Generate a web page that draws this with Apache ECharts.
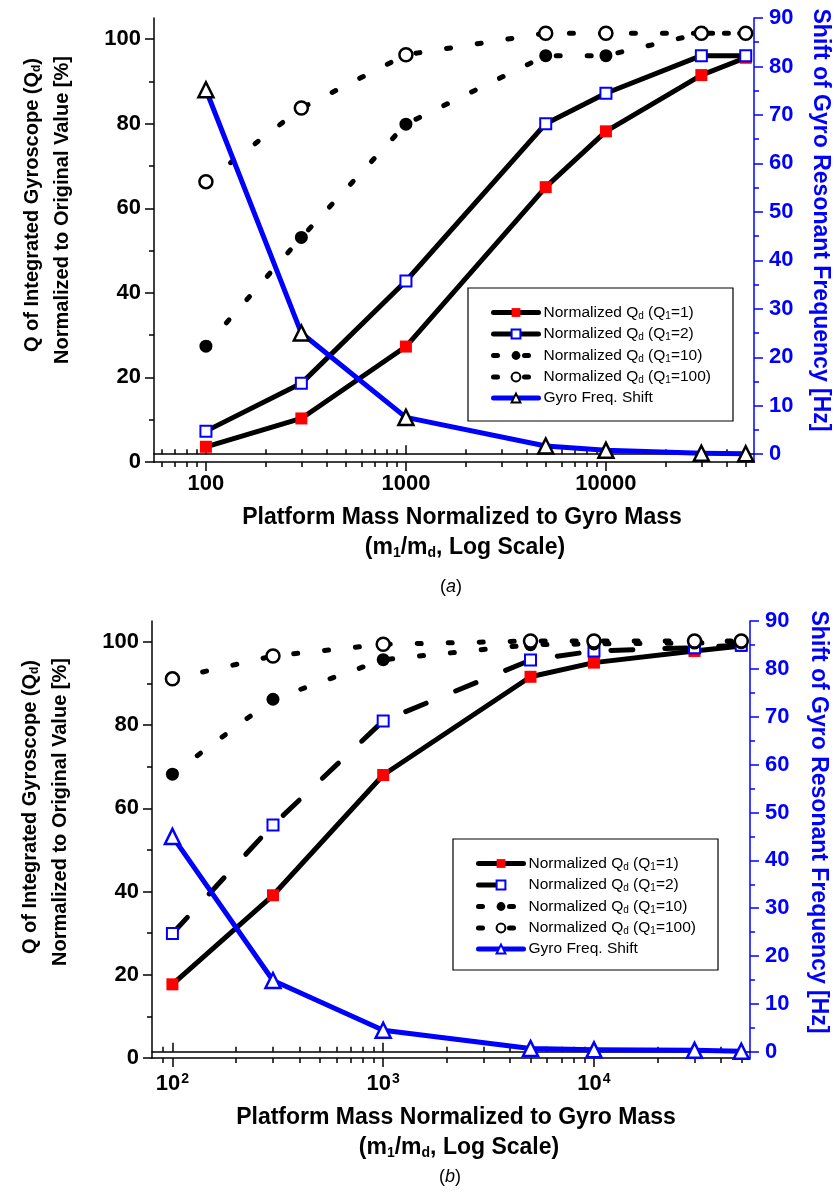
<!DOCTYPE html>
<html><head><meta charset="utf-8">
<script src="https://cdn.jsdelivr.net/npm/echarts@6/dist/echarts.min.js"></script>
<style>html,body{margin:0;padding:0;background:#fff}#c{width:836px;height:1196px}</style>
</head><body><div id="c"></div>
<script>
// ---- data ----
const massRatio = [100, 300, 1000, 5000, 10000, 30000, 50000];
// panel (a)
const qA_Q1_1   = [3.6, 10.3, 27.3, 65.0, 78.2, 91.5, 95.6];
const qA_Q1_2   = [7.3, 18.6, 42.8, 80.0, 87.2, 96.1, 96.1];
const qA_Q1_10  = [27.4, 53.1, 79.9, 96.1, 96.1, 101.4, 101.4];
const qA_Q1_100 = [66.3, 83.7, 96.3, 101.4, 101.4, 101.4, 101.4];
const shiftA    = [75.2, 25.0, 7.6, 1.7, 0.8, 0.2, 0.1];
// panel (b)
const qB_Q1_1   = [17.7, 39.1, 68.0, 91.6, 95.0, 97.8, 99.0];
const qB_Q1_2   = [29.9, 56.0, 81.0, 95.6, 97.8, 98.6, 99.2];
const qB_Q1_10  = [68.2, 86.2, 95.7, 99.3, 99.5, 99.7, 99.8];
const qB_Q1_100 = [91.1, 96.6, 99.4, 100.2, 100.2, 100.2, 100.2];
const shiftB    = [45.0, 14.9, 4.5, 0.7, 0.4, 0.3, 0.1];
// ticks
const xMajorTicks = [100, 1000, 10000];
const xMinorTicksA = [60, 70, 80, 90, 200, 300, 400, 500, 600, 700, 800, 900, 2000, 3000, 4000, 5000, 6000, 7000, 8000, 9000, 20000, 30000, 40000, 50000];
const xMinorTicksB = [90, 200, 300, 400, 500, 600, 700, 800, 900, 2000, 3000, 4000, 5000, 6000, 7000, 8000, 9000, 20000, 30000, 40000, 50000];
const yLeftTicks = [0, 20, 40, 60, 80, 100];
const yLeftMinor = [10, 30, 50, 70, 90];
const yRightTicks = [0, 10, 20, 30, 40, 50, 60, 70, 80, 90];
const yRightMinor = [5, 15, 25, 35, 45, 55, 65, 75, 85];

const BLUE = '#0000ff', RED = '#ff0000', BLACK = '#000';
const FF = "'Liberation Sans', Arial, Helvetica, sans-serif";

const grids = [
  {left: 154, top: 18, width: 600, height: 444},
  {left: 152, top: 621, width: 598, height: 437}
];
const xRange = [[55, 55000], [80, 55000]];
const yRightRange = [[-1.6, 90], [-1.3, 90]];

function xAxes(gi, minorVals, fmt, rich) {
  const base = {type: 'log', logBase: 10, min: xRange[gi][0], max: xRange[gi][1], gridIndex: gi,
    splitLine: {show: false}, minorTick: {show: false}, minorSplitLine: {show: false}};
  const line = {show: true, lineStyle: {color: BLACK, width: 1.5}};
  const tk = (vals, len, inside) => ({show: true, customValues: vals, length: len, inside: inside, lineStyle: {color: BLACK, width: 1.5}});
  return [
    Object.assign({}, base, {position: 'bottom', axisLine: line, axisTick: tk(xMajorTicks, 9, false),
      axisLabel: {show: true, customValues: xMajorTicks, formatter: fmt, margin: gi === 0 ? 11 : 14, color: BLACK,
        fontFamily: FF, fontWeight: 'bold', fontSize: 22, rich: rich}}),
    Object.assign({}, base, {position: 'bottom', axisLine: {show: false}, axisTick: tk(minorVals, 5, false), axisLabel: {show: false}}),
    Object.assign({}, base, {position: 'top', axisLine: line, axisTick: tk(xMajorTicks, 9, false), axisLabel: {show: false}}),
    Object.assign({}, base, {position: 'top', axisLine: {show: false}, axisTick: tk(minorVals, 5, false), axisLabel: {show: false}})
  ];
}
function yAxes(gi) {
  const lbl = (c, m, vals) => ({show: true, customValues: vals, color: c, fontFamily: FF, fontWeight: 'bold', fontSize: 22, margin: m});
  const tk = (c, vals, len) => ({show: true, customValues: vals, length: len, inside: false, lineStyle: {color: c, width: 1.5}});
  const common = {type: 'value', gridIndex: gi, splitLine: {show: false}, minorTick: {show: false}};
  return [
    Object.assign({}, common, {position: 'left', min: 0, max: 105, axisLine: {show: true, lineStyle: {color: BLACK, width: 1.5}},
      axisTick: tk(BLACK, yLeftTicks, 9), axisLabel: lbl(BLACK, 13, yLeftTicks)}),
    Object.assign({}, common, {position: 'left', min: 0, max: 105, axisLine: {show: false},
      axisTick: tk(BLACK, yLeftMinor, 5), axisLabel: {show: false}}),
    Object.assign({}, common, {position: 'right', min: yRightRange[gi][0], max: yRightRange[gi][1], axisLine: {show: true, lineStyle: {color: BLUE, width: 1.5}},
      axisTick: tk(BLUE, yRightTicks, 9), axisLabel: lbl(BLUE, 15, yRightTicks)}),
    Object.assign({}, common, {position: 'right', min: yRightRange[gi][0], max: yRightRange[gi][1], axisLine: {show: false},
      axisTick: tk(BLUE, yRightMinor, 5), axisLabel: {show: false}})
  ];
}

const pts = vals => massRatio.map((m, i) => [m, vals[i]]);
const DOT = [4, 27];
const LONGDASH = [22, 32];
function ser(name, gi, right, vals, lineColor, lineType, symbol, size, itemStyle) {
  return {
    name: name, type: 'line', xAxisIndex: gi * 4, yAxisIndex: gi * 4 + (right ? 2 : 0),
    data: pts(vals), symbol: symbol, symbolSize: size, showSymbol: true,
    lineStyle: {color: lineColor, width: 5, type: lineType, cap: 'round', join: 'round'},
    itemStyle: itemStyle, emphasis: {disabled: true}, animation: false, silent: true
  };
}

const series = [
  // (a)
  ser('A1', 0, false, qA_Q1_1, BLACK, 'solid', 'rect', 12, {color: RED}),
  ser('A2', 0, false, qA_Q1_2, BLACK, 'solid', 'rect', 11, {color: '#fff', borderColor: BLUE, borderWidth: 2}),
  ser('A10', 0, false, qA_Q1_10, BLACK, DOT, 'circle', 13, {color: BLACK}),
  ser('A100', 0, false, qA_Q1_100, BLACK, DOT, 'circle', 13, {color: '#fff', borderColor: BLACK, borderWidth: 2.5}),
  ser('AG', 0, true, shiftA, BLUE, 'solid', 'triangle', 15, {color: '#fff', borderColor: BLACK, borderWidth: 2.5}),
  // (b)
  ser('B1', 1, false, qB_Q1_1, BLACK, 'solid', 'rect', 12, {color: RED}),
  ser('B2', 1, false, qB_Q1_2, BLACK, LONGDASH, 'rect', 11, {color: '#fff', borderColor: BLUE, borderWidth: 2}),
  ser('B10', 1, false, qB_Q1_10, BLACK, DOT, 'circle', 13, {color: BLACK}),
  ser('B100', 1, false, qB_Q1_100, BLACK, DOT, 'circle', 13, {color: '#fff', borderColor: BLACK, borderWidth: 2.5}),
  ser('BG', 1, true, shiftB, BLUE, 'solid', 'triangle', 15, {color: '#fff', borderColor: BLUE, borderWidth: 2.5})
];

const legendText = {
  '1': '{n|Normalized Q}{s|d}{n| (Q}{s|1}{n|=1)}',
  '2': '{n|Normalized Q}{s|d}{n| (Q}{s|1}{n|=2)}',
  '10': '{n|Normalized Q}{s|d}{n| (Q}{s|1}{n|=10)}',
  '100': '{n|Normalized Q}{s|d}{n| (Q}{s|1}{n|=100)}',
  'G': '{n|Gyro Freq. Shift}'
};
const legendRich = {
  n: {fontSize: 15.5, fontFamily: FF, color: BLACK, lineHeight: 17},
  s: {fontSize: 10, fontFamily: FF, color: BLACK, lineHeight: 10, padding: [7, 0, 0, 0]}
};
function legend(prefix, left, top) {
  return {
    data: ['1', '2', '10', '100', 'G'].map(k => prefix + k),
    orient: 'vertical', left: left, top: top, padding: 0,
    itemWidth: 45, itemHeight: 11, itemGap: 4.5, itemTextGap: 2,
    selectedMode: false,
    lineStyle: {width: 5, cap: 'round'},
    formatter: name => legendText[name.slice(1)],
    textStyle: {rich: legendRich, fontSize: 15.5, fontFamily: FF}
  };
}

const titleRich = (size, color) => ({
  t: {fontSize: size, fontWeight: 'bold', fontFamily: FF, fill: color, color: color, lineHeight: size + 2},
  s: {fontSize: Math.round(size * 0.6), fontWeight: 'bold', fontFamily: FF, fill: color, color: color, lineHeight: Math.round(size * 0.6), padding: [Math.round(size * 0.45), 0, 0, 0]}
});
function txt(x, y, rot, text, size, color) {
  return {type: 'text', x: x, y: y, rotation: rot, silent: true,
    style: {text: text, rich: titleRich(size, color), fill: color, align: 'center', verticalAlign: 'middle',
      font: 'bold ' + size + 'px ' + FF}};
}
function caption(x, y, letter) {
  return {type: 'text', x: x, y: y, silent: true,
    style: {text: '{p|(}{i|' + letter + '}{p|)}', align: 'center', verticalAlign: 'middle',
      rich: {p: {fontSize: 18, fontFamily: FF, fill: BLACK, color: BLACK}, i: {fontSize: 18, fontStyle: 'italic', fontFamily: FF, fill: BLACK, color: BLACK}}}};
}

const fmtA = v => '{b|' + Math.round(v) + '}';
const fmtB = v => '{b|10}{p|' + Math.round(Math.log10(v)) + '}';
const richA = {b: {fontSize: 22, fontWeight: 'bold', fontFamily: FF, color: BLACK}};
const richB = {b: {fontSize: 22, fontWeight: 'bold', fontFamily: FF, color: BLACK, lineHeight: 24},
               p: {fontSize: 14, fontWeight: 'bold', fontFamily: FF, color: BLACK, lineHeight: 14, padding: [0, 0, 10, 1]}};

const graphics = [
  // legend frames
  {type: 'rect', shape: {x: 468, y: 288, width: 265, height: 133}, style: {fill: 'none', stroke: BLACK, lineWidth: 1.2}, silent: true, z: 0},
  {type: 'rect', shape: {x: 453, y: 839, width: 265, height: 131}, style: {fill: 'none', stroke: BLACK, lineWidth: 1.2}, silent: true, z: 0},
  // (a) axis titles
  txt(32, 205, Math.PI / 2, '{t|Q of Integrated Gyroscope (Q}{s|d}{t|)}', 20, BLACK),
  txt(62, 210, Math.PI / 2, '{t|Normalized to Original Value [%]}', 20, BLACK),
  txt(820, 220, -Math.PI / 2, '{t|Shift of Gyro Resonant Frequency [Hz]}', 23, BLUE),
  txt(462, 518, 0, '{t|Platform Mass Normalized to Gyro Mass}', 23, BLACK),
  txt(465, 548, 0, '{t|(m}{s|1}{t|/m}{s|d}{t|, Log Scale)}', 23, BLACK),
  caption(451, 587, 'a'),
  // (b) axis titles
  txt(30, 807, Math.PI / 2, '{t|Q of Integrated Gyroscope (Q}{s|d}{t|)}', 20, BLACK),
  txt(60, 812, Math.PI / 2, '{t|Normalized to Original Value [%]}', 20, BLACK),
  txt(818, 822, -Math.PI / 2, '{t|Shift of Gyro Resonant Frequency [Hz]}', 23, BLUE),
  txt(456, 1118, 0, '{t|Platform Mass Normalized to Gyro Mass}', 23, BLACK),
  txt(459, 1148, 0, '{t|(m}{s|1}{t|/m}{s|d}{t|, Log Scale)}', 23, BLACK),
  caption(450, 1177, 'b')
];

const chart = echarts.init(document.getElementById('c'), null, {renderer: 'canvas'});
chart.setOption({
  animation: false,
  backgroundColor: '#fff',
  grid: grids,
  xAxis: xAxes(0, xMinorTicksA, fmtA, richA).concat(xAxes(1, xMinorTicksB, fmtB, richB)),
  yAxis: yAxes(0).concat(yAxes(1)),
  legend: [legend('A', 491, 304), legend('B', 476, 855)],
  series: series,
  graphic: graphics
});
</script>
</body></html>
